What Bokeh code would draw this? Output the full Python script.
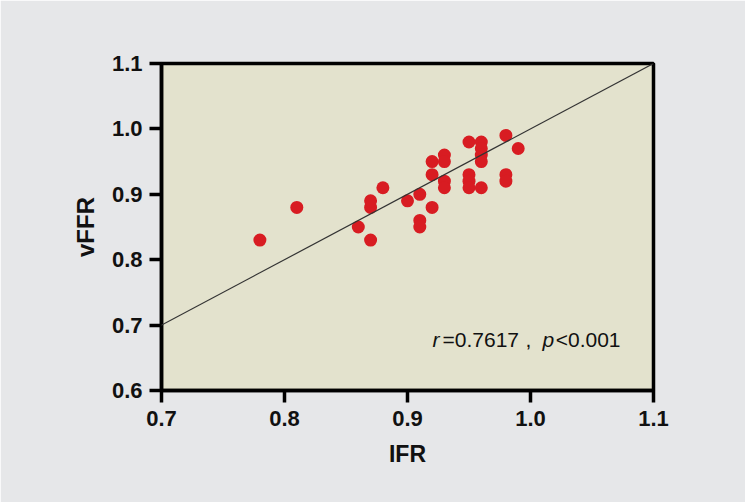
from bokeh.plotting import figure
from bokeh.models import Range1d, FixedTicker, Label, Slope
from bokeh.embed import file_html
from bokeh.resources import INLINE

ifr = [0.78, 0.81, 0.86, 0.87, 0.87, 0.87, 0.88, 0.90, 0.91, 0.91, 0.91,
       0.92, 0.92, 0.92, 0.93, 0.93, 0.93, 0.93, 0.95, 0.95, 0.95, 0.95,
       0.96, 0.96, 0.96, 0.96, 0.96, 0.98, 0.98, 0.98, 0.99]
vffr = [0.83, 0.88, 0.85, 0.83, 0.88, 0.89, 0.91, 0.89, 0.90, 0.86, 0.85,
        0.88, 0.93, 0.95, 0.96, 0.95, 0.92, 0.91, 0.98, 0.93, 0.92, 0.91,
        0.98, 0.97, 0.96, 0.95, 0.91, 0.99, 0.93, 0.92, 0.97]
x_ticks = [0.7, 0.8, 0.9, 1.0, 1.1]
y_ticks = [0.6, 0.7, 0.8, 0.9, 1.0, 1.1]
x_labels = {0.7: "0.7", 0.8: "0.8", 0.9: "0.9", 1.0: "1.0", 1.1: "1.1"}
y_labels = {0.6: "0.6", 0.7: "0.7", 0.8: "0.8", 0.9: "0.9", 1.0: "1.0", 1.1: "1.1"}

FONT = "Liberation Sans"
BG = "#e6e7e9"

p = figure(width=745, height=502, output_backend="svg", toolbar_location=None,
           x_range=Range1d(0.7, 1.1), y_range=Range1d(0.6, 1.1),
           min_border_left=161, min_border_right=92, min_border_top=63, min_border_bottom=112)
p.background_fill_color = "#e3e2cd"
p.border_fill_color = BG
p.outline_line_color = "black"
p.outline_line_width = 3.5
p.grid.visible = False

for ax, ticks, labels in ((p.xaxis, x_ticks, x_labels), (p.yaxis, y_ticks, y_labels)):
    ax.ticker = FixedTicker(ticks=ticks)
    ax.major_label_overrides = labels
    ax.minor_tick_line_color = None
    ax.axis_line_width = 3.5
    ax.axis_line_color = "black"
    ax.major_tick_line_width = 3.5
    ax.major_tick_line_color = "black"
    ax.major_tick_in = 0
    ax.major_tick_out = 12
    ax.major_label_text_font = FONT
    ax.major_label_text_font_style = "bold"
    ax.major_label_text_font_size = "22px"
    ax.major_label_text_color = "#111111"
    ax.axis_label_text_font = FONT
    ax.axis_label_text_font_style = "bold"
    ax.axis_label_text_font_size = "23px"
    ax.axis_label_text_color = "#111111"

p.xaxis.axis_label = "IFR"
p.yaxis.axis_label = "vFFR"
p.yaxis.axis_label_text_font_size = "24px"
p.xaxis.major_label_standoff = 8
p.xaxis.axis_label_standoff = 12
p.yaxis.major_label_standoff = 7
p.yaxis.axis_label_standoff = 10

p.add_layout(Slope(gradient=1, y_intercept=0, line_color="#333333", line_width=1.2))
p.scatter(ifr, vffr, size=13, fill_color="#d81c22", line_color=None)

# annotation pieces, screen pixels measured from the frame's left / bottom edge
parts = [("r", "italic", 271, "left"), ("=0.7617", "normal", 281, "left"),
         (",", "normal", 364, "left"), ("p", "italic", 381, "left"),
         ("<0.001", "normal", 459, "right")]
for txt, style, px, align in parts:
    p.add_layout(Label(x=px, y=51, x_units="screen", y_units="screen",
                       text=txt, text_font=FONT,
                       text_font_style=style, text_font_size="21px", text_color="#111111",
                       text_baseline="middle", text_align=align))

open("out.html", "w").write(file_html(p, INLINE))
